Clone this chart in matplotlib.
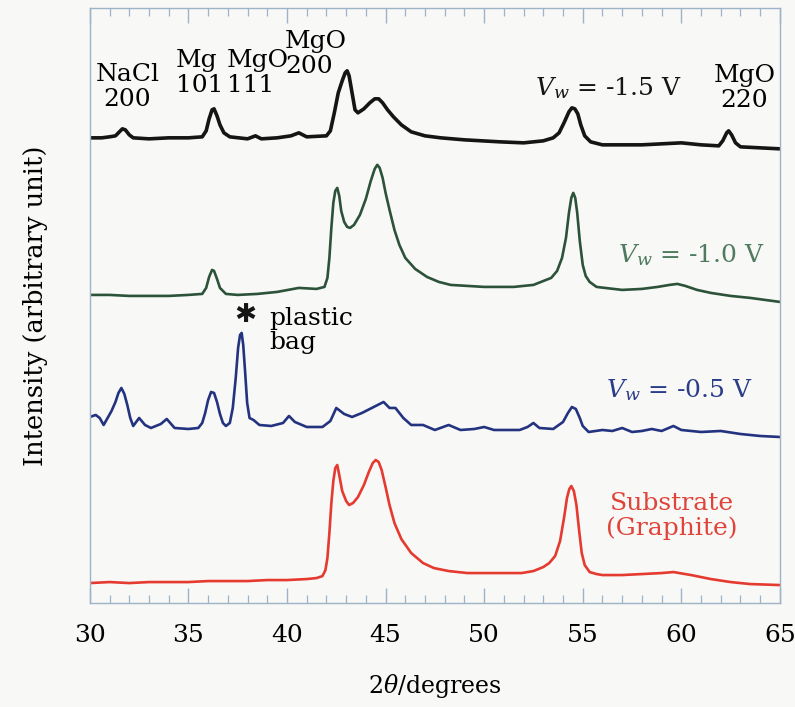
import matplotlib
matplotlib.use("Agg")
import matplotlib.pyplot as plt
from matplotlib.ticker import MultipleLocator

# ------------------------------------------
# Datos leídos del difractograma (2θ, intensidad arbitraria con desplazamiento)
# ------------------------------------------
tt_m15 = [30.0, 30.6, 31.0, 31.3, 31.5, 31.65, 31.8, 32.0, 32.2, 33.0, 34.0, 35.0, 35.7, 35.9,
          36.05, 36.2, 36.3, 36.45, 36.6, 36.8, 37.1, 38.0, 38.4, 38.7, 39.5, 40.2, 40.6, 41.0,
          42.0, 42.2, 42.4, 42.6, 42.8, 42.95, 43.05, 43.15, 43.3, 43.45, 43.6, 43.9, 44.2, 44.45,
          44.65, 44.85, 45.1, 45.4, 45.8, 46.3, 47.0, 47.8, 49.0, 50.8, 52.0, 53.0, 53.5, 53.8,
          54.05, 54.3, 54.45, 54.6, 54.75, 54.9, 55.1, 55.4, 56.0, 57.0, 58.0, 59.0, 60.0, 61.0,
          61.9, 62.1, 62.3, 62.4, 62.55, 62.75, 63.0, 64.0, 65.0]
int_m15 = [465, 465, 466, 467, 471, 474, 473, 468, 465, 464, 465, 465, 466, 472,
           484, 493, 494, 487, 478, 470, 466, 464, 467, 464, 465, 467, 470, 466,
           467, 472, 490, 510, 522, 530, 532, 527, 510, 493, 490, 494, 500, 504,
           504, 500, 493, 486, 478, 471, 467, 465, 463, 461, 460, 462, 465, 470,
           480, 491, 495, 494, 489, 478, 467, 461, 458, 458, 458, 459, 460, 458,
           457, 462, 470, 472, 468, 460, 456, 455, 454]

tt_m10 = [30.0, 31.0, 32.0, 33.0, 34.0, 35.0, 35.7, 35.9, 36.05, 36.2, 36.3, 36.45, 36.6, 36.9,
          37.5, 38.5, 39.5, 40.6, 41.5, 41.9, 42.05, 42.15, 42.25, 42.35, 42.45, 42.55, 42.65, 42.75,
          42.9, 43.05, 43.2, 43.4, 43.7, 44.0, 44.25, 44.45, 44.58, 44.7, 44.85, 45.0, 45.2, 45.45,
          45.7, 46.0, 46.5, 47.1, 47.7, 48.3, 50.0, 51.5, 52.5, 53.4, 53.7, 53.95, 54.15, 54.3,
          54.42, 54.52, 54.62, 54.72, 54.85, 55.0, 55.15, 55.35, 55.7, 57.0, 58.0, 58.8, 59.4, 59.8,
          60.2, 60.8, 61.5, 62.5, 63.5, 65.0]
int_m10 = [308, 308, 307, 307, 307, 308, 309, 315, 326, 333, 332, 324, 315, 309,
           308, 309, 311, 315, 314, 316, 325, 345, 375, 400, 412, 415, 407, 392,
           381, 376, 375, 378, 388, 404, 422, 434, 438, 435, 425, 410, 393, 373,
           358, 345, 334, 326, 321, 318, 316, 316, 318, 325, 332, 345, 365, 390,
           405, 410, 405, 390, 362, 338, 327, 321, 316, 313, 314, 316, 318, 319,
           317, 313, 310, 307, 305, 301]

tt_m05 = [30.0, 30.3, 30.5, 30.7, 31.1, 31.3, 31.45, 31.6, 31.75, 31.9, 32.05, 32.2, 32.5, 32.8,
          33.1, 33.6, 33.9, 34.3, 35.0, 35.5, 35.7, 35.85, 36.0, 36.15, 36.3, 36.45, 36.6, 36.75,
          36.9, 37.1, 37.25, 37.4, 37.52, 37.62, 37.7, 37.78, 37.88, 37.98, 38.1, 38.3, 38.6, 39.2,
          39.8, 40.1, 40.4, 41.0, 41.8, 42.2, 42.5, 42.9, 43.3, 43.8, 44.3, 44.9, 45.2, 45.5,
          45.9, 46.3, 46.9, 47.5, 48.2, 48.8, 49.5, 50.0, 50.5, 51.0, 51.8, 52.2, 52.5, 52.8,
          53.5, 54.0, 54.25, 54.45, 54.65, 54.85, 55.0, 55.3, 56.0, 56.5, 57.0, 57.5, 58.0, 58.5,
          59.0, 59.6, 60.0, 61.0, 62.0, 63.0, 64.0, 65.0]
int_m05 = [186, 188, 185, 178, 192, 201, 210, 215, 209, 198, 185, 177, 185, 178,
           175, 179, 184, 175, 174, 175, 180, 190, 203, 211, 210, 201, 189, 180,
           177, 180, 195, 225, 255, 268, 270, 258, 230, 200, 185, 183, 178, 177,
           180, 187, 181, 176, 176, 182, 195, 189, 186, 190, 195, 201, 195, 195,
           185, 178, 178, 173, 178, 173, 174, 176, 173, 173, 173, 176, 180, 175,
           174, 181, 190, 196, 194, 185, 177, 171, 173, 172, 175, 171, 172, 174,
           172, 177, 173, 171, 172, 169, 167, 166]

tt_sub = [30.0, 31.0, 32.0, 33.0, 34.0, 35.0, 36.0, 37.0, 38.0, 39.0, 40.0, 41.0, 41.5, 41.8,
          41.95, 42.05, 42.15, 42.25, 42.35, 42.45, 42.55, 42.65, 42.8, 43.0, 43.15, 43.35, 43.6, 43.9,
          44.15, 44.35, 44.5, 44.65, 44.8, 45.0, 45.2, 45.45, 45.8, 46.3, 46.9, 47.45, 48.2, 49.15,
          50.0, 51.0, 51.9, 52.5, 53.0, 53.3, 53.6, 53.85, 54.05, 54.2, 54.32, 54.42, 54.55, 54.68,
          54.82, 54.95, 55.1, 55.35, 55.7, 56.0, 57.0, 58.0, 59.0, 59.6, 60.5, 61.5, 62.5, 63.5, 65.0]
int_sub = [20, 21, 20, 21, 21, 21, 22, 22, 22, 23, 23, 24, 25, 27,
           33, 45, 70, 100, 122, 135, 138, 128, 112, 102, 98, 100, 106, 118,
           131, 140, 143, 141, 133, 116, 98, 80, 64, 50, 40, 35, 32, 30,
           30, 30, 30, 32, 36, 40, 47, 62, 85, 105, 114, 117, 112, 98,
           72, 50, 38, 31, 29, 28, 28, 29, 30, 31, 28, 24, 21, 19, 18]

series = [
    (tt_m15, int_m15, "#151515", 2.6),
    (tt_m10, int_m10, "#2c5239", 1.9),
    (tt_m05, int_m05, "#23337f", 1.9),
    (tt_sub, int_sub, "#e53a30", 1.9),
]

plt.rcParams["font.family"] = ["DejaVu Serif", "DejaVu Sans"]
plt.rcParams["mathtext.fontset"] = "dejavuserif"

fig = plt.figure(figsize=(7.95, 7.07), dpi=100)
fig.patch.set_facecolor("#f8f8f6")
ax = fig.add_axes([0.113, 0.147, 0.868, 0.842])
ax.set_facecolor("#f8f8f6")

for x, y, c, lw in series:
    ax.plot(x, y, color=c, linewidth=lw, solid_joinstyle="round", solid_capstyle="round")

ax.set_xlim(30, 65)
ax.set_ylim(0, 595)
ax.xaxis.set_major_locator(MultipleLocator(5))
ax.xaxis.set_minor_locator(MultipleLocator(1))
ax.set_yticks([])

spine_c = "#9fb3c8"
for s in ax.spines.values():
    s.set_color(spine_c)
    s.set_linewidth(1.0)
ax.tick_params(axis="x", which="both", direction="in", top=True, bottom=True,
               color=spine_c, labelsize=18, pad=15)
ax.tick_params(axis="x", which="major", length=11, width=1.0)
ax.tick_params(axis="x", which="minor", length=6, width=0.9)

ax.set_xlabel(r"2$\theta$/degrees", fontsize=17, labelpad=18)
ax.set_ylabel("Intensity (arbitrary unit)", fontsize=18.5, labelpad=30)

# Etiquetas de picos
fs = 18
ax.text(31.9, 516, "NaCl\n200", ha="center", va="center", fontsize=fs, linespacing=1.1)
ax.text(34.35, 530, "Mg\n101", ha="left", va="center", fontsize=fs, linespacing=1.1,
        multialignment="left")
ax.text(36.95, 530, "MgO\n111", ha="left", va="center", fontsize=fs, linespacing=1.1,
        multialignment="left")
ax.text(39.9, 549, "MgO\n200", ha="left", va="center", fontsize=fs, linespacing=1.1,
        multialignment="left")
ax.text(63.2, 515, "MgO\n220", ha="center", va="center", fontsize=fs, linespacing=1.1)

ax.text(52.6, 515, r"$V_w$ = -1.5 V", ha="left", va="center", fontsize=fs, color="#151515")
ax.text(56.8, 348, r"$V_w$ = -1.0 V", ha="left", va="center", fontsize=fs, color="#4e7a5d")
ax.text(56.2, 213, r"$V_w$ = -0.5 V", ha="left", va="center", fontsize=fs, color="#2b3d88")
ax.text(59.5, 87, "Substrate\n(Graphite)", ha="center", va="center", fontsize=fs,
        color="#e0433a", linespacing=1.1)

ax.text(37.88, 288, "\u2731", ha="center", va="center", fontsize=19,
        family=["DejaVu Sans"], color="#151515")
ax.text(39.1, 272, "plastic\nbag", ha="left", va="center", fontsize=fs, linespacing=1.05)

fig.savefig("out.png", dpi=100, facecolor=fig.get_facecolor())
